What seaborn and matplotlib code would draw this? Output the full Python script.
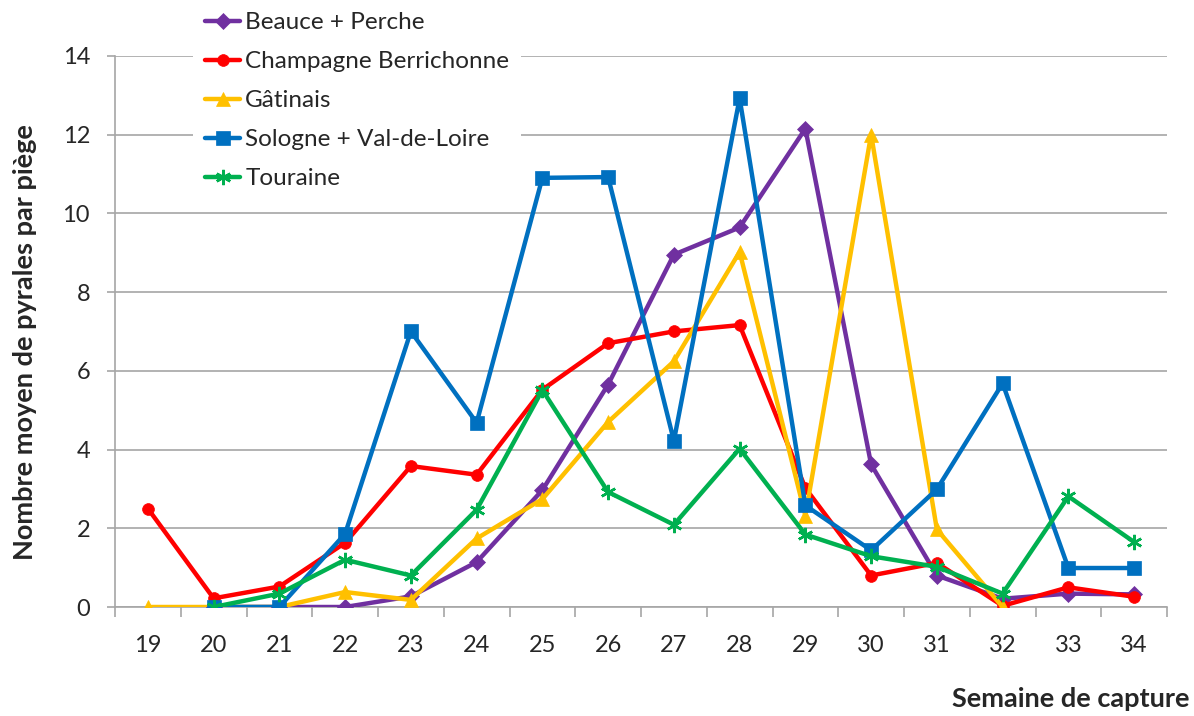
import numpy as np
import pandas as pd
import matplotlib
matplotlib.use("Agg")
import matplotlib.pyplot as plt
import seaborn as sns
from matplotlib.ticker import MultipleLocator

# ── Data ─────────────────────────────────────────────────────────────────────
weeks = list(range(19, 35))

beauce = [np.nan, 0, 0, 0, 0.27, 1.14, 2.97, 5.65, 8.95, 9.64, 12.15,
          3.62, 0.80, 0.21, 0.34, 0.32]
champagne = [2.50, 0.22, 0.52, 1.63, 3.58, 3.36, 5.52, 6.70, 7.00, 7.16, 3.02,
             0.80, 1.12, 0.03, 0.50, 0.26]
gatinais = [0, 0, 0, 0.38, 0.18, 1.74, 2.74, 4.70, 6.24, 9.02, 2.32,
            12.00, 1.97, 0, np.nan, np.nan]
sologne = [np.nan, 0, 0, 1.86, 7.00, 4.68, 10.90, 10.92, 4.22, 12.92, 2.58,
           1.44, 2.99, 5.68, 0.99, 0.99]
touraine = [np.nan, 0, 0.34, 1.20, 0.80, 2.47, 5.51, 2.92, 2.09, 4.02, 1.84,
            1.29, 1.02, 0.34, 2.81, 1.65]

series_names = ["Beauce + Perche", "Champagne Berrichonne", "Gâtinais",
                "Sologne + Val-de-Loire", "Touraine"]
series_values = [beauce, champagne, gatinais, sologne, touraine]
colors = ["#7030A0", "#FF0000", "#FFC000", "#0070C0", "#00B050"]
markers = ["D", "o", "^", "s", (6, 2, 0)]
marker_sizes = [8, 8.5, 10, 9.5, 11]

sns.set_style("white")
plt.rcParams["font.family"] = ["Lato", "DejaVu Sans"]

fig = plt.figure(figsize=(11.94, 7.16), dpi=100)
ax = fig.add_axes([115 / 1194, 1 - 607 / 716, 1052 / 1194, (607 - 55.8) / 716])

for name, vals, c, m, ms in zip(series_names, series_values, colors, markers, marker_sizes):
    df = pd.DataFrame({"week": weeks, "value": vals}).dropna()
    sns.lineplot(data=df, x="week", y="value", ax=ax, color=c, lw=3.2,
                 marker=m, markersize=ms, markeredgecolor=c,
                 markeredgewidth=1.8 if m == (6, 2, 0) else 0.5,
                 label=name, legend=False, zorder=3)

ax.set_xlim(18.5, 34.5)
ax.set_ylim(0, 14)
ax.yaxis.set_major_locator(MultipleLocator(2))
ax.set_xticks(weeks)
ax.set_xticks(np.arange(18.5, 35, 1), minor=True)
ax.grid(axis="y", color="#A6A6A6", lw=1.2, zorder=0)
ax.grid(axis="x", visible=False)

for side in ["top", "right"]:
    ax.spines[side].set_visible(False)
for side in ["left", "bottom"]:
    ax.spines[side].set_color("#A6A6A6")
    ax.spines[side].set_linewidth(1.2)

ax.tick_params(axis="x", which="major", length=0, pad=20, labelsize=17)
ax.tick_params(axis="x", which="minor", length=7, width=1.2, color="#A6A6A6",
               direction="out", bottom=True)
ax.tick_params(axis="y", which="major", length=6, width=1.2, color="#A6A6A6",
               direction="out", left=True, pad=12, labelsize=17)
ax.set_xlabel("")
ax.set_ylabel("")

fig.text(25 / 1194, 1 - 342 / 716, "Nombre moyen de pyrales par piège",
         rotation=90, ha="center", va="center", fontsize=19.5, fontweight="bold")
fig.text(1190 / 1194, 1 - 699 / 716, "Semaine de capture",
         ha="right", va="center", fontsize=19.5, fontweight="bold")

handles, labels = ax.get_legend_handles_labels()
leg = fig.legend(handles, labels, loc="upper left",
                 bbox_to_anchor=(193 / 1194, 1.0), frameon=True,
                 facecolor="white", edgecolor="none", framealpha=1,
                 fontsize=17.5, handlelength=1.45, handletextpad=0.2,
                 labelspacing=0.74, borderaxespad=0, borderpad=0.5)
leg.set_zorder(5)

fig.savefig("out.png", dpi=100)
